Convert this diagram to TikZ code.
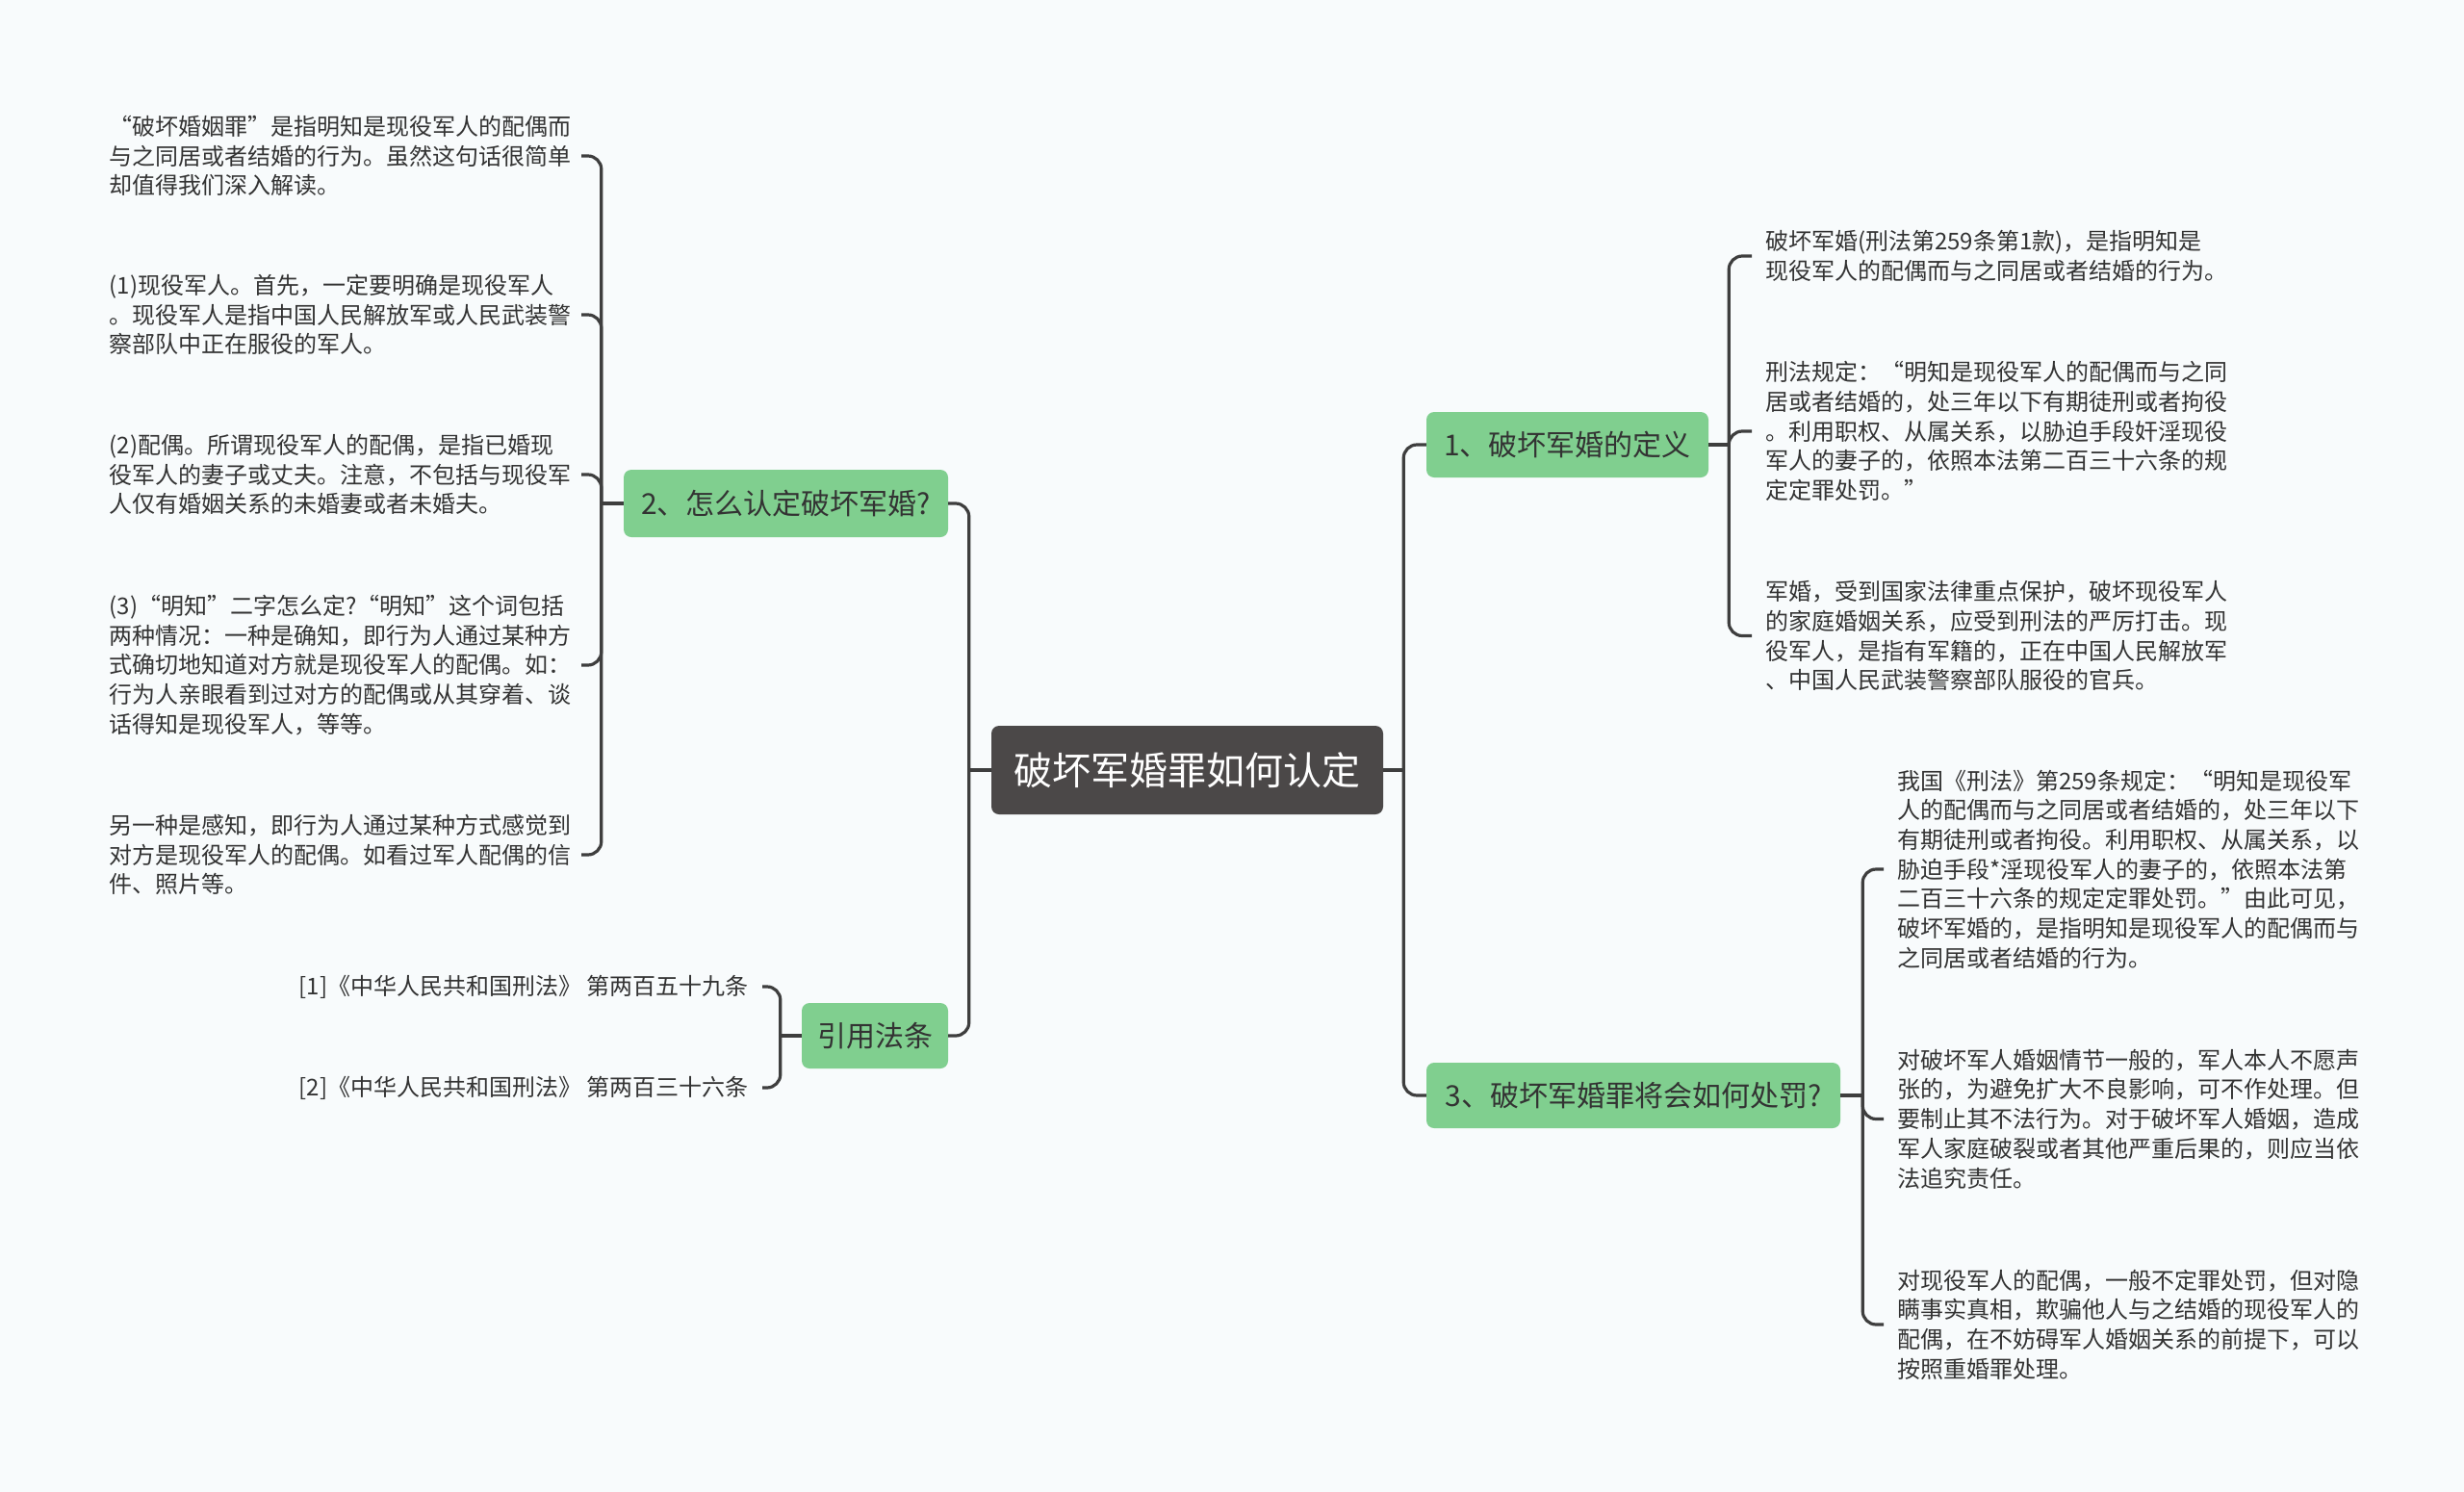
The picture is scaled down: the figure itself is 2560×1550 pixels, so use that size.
\documentclass[tikz,border=0pt]{standalone}
\usepackage{fontspec}
\setmainfont{Noto Sans CJK SC}
\definecolor{bgc}{HTML}{F8FBFC}
\definecolor{rootc}{HTML}{4B4848}
\definecolor{topicc}{HTML}{80CF8F}
\definecolor{textc}{HTML}{333333}
\definecolor{linec}{HTML}{3E3E3E}
\tikzset{
  rootnode/.style={fill=rootc, text=white, rounded corners=8pt, minimum height=92pt, inner xsep=18pt, font=\fontsize{40}{48}\selectfont},
  topic/.style={fill=topicc, text=textc, rounded corners=8pt, minimum height=68pt, inner xsep=15pt, font=\fontsize{30}{36}\selectfont},
  leaf/.style={text=textc, align=left, text width=482pt, inner xsep=14pt, inner ysep=2pt, font=\fontsize{24}{30.7}\selectfont},
  leftleaf/.style={leaf, text width=476pt},
  cite/.style={text=textc, align=right, inner xsep=14pt, inner ysep=2pt, font=\fontsize{24}{30.7}\selectfont},
  conn/.style={draw=linec, line width=3.2pt, rounded corners=14pt},
}
\begin{document}
\begin{tikzpicture}[x=1pt,y=-1pt]
\fill[bgc] (0,0) rectangle (2560,1550);
\useasboundingbox (0,0) rectangle (2560,1550);

% root and topics
\node[rootnode, minimum width=407pt] (root) at (1233.5,800) {破坏军婚罪如何认定};
\node[topic, minimum width=293pt] (t1) at (1628.5,462) {1、破坏军婚的定义};
\node[topic, minimum width=430pt] (t3) at (1697,1138) {3、破坏军婚罪将会如何处罚?};
\node[topic, minimum width=337pt, minimum height=70pt] (t2) at (816.5,523) {2、怎么认定破坏军婚?};
\node[topic, minimum width=152pt] (t4) at (909,1076) {引用法条};

% left leaves of t2
\node[leftleaf, anchor=east] (l1) at (604,162) {“破坏婚姻罪”是指明知是现役军人的配偶而\\与之同居或者结婚的行为。虽然这句话很简单\\却值得我们深入解读。};
\node[leftleaf, anchor=east] (l2) at (604,327) {(1)现役军人。首先，一定要明确是现役军人\\。现役军人是指中国人民解放军或人民武装警\\察部队中正在服役的军人。};
\node[leftleaf, anchor=east] (l3) at (604,493) {(2)配偶。所谓现役军人的配偶，是指已婚现\\役军人的妻子或丈夫。注意，不包括与现役军\\人仅有婚姻关系的未婚妻或者未婚夫。};
\node[leftleaf, anchor=east] (l4) at (604,691) {(3)“明知”二字怎么定?“明知”这个词包括\\两种情况：一种是确知，即行为人通过某种方\\式确切地知道对方就是现役军人的配偶。如：\\行为人亲眼看到过对方的配偶或从其穿着、谈\\话得知是现役军人，等等。};
\node[leftleaf, anchor=east] (l5) at (604,888) {另一种是感知，即行为人通过某种方式感觉到\\对方是现役军人的配偶。如看过军人配偶的信\\件、照片等。};

% citation leaves
\node[cite, anchor=east] (c1) at (792,1025) {[1]《中华人民共和国刑法》 第两百五十九条};
\node[cite, anchor=east] (c2) at (792,1130) {[2]《中华人民共和国刑法》 第两百三十六条};

% right leaves of t1
\node[leaf, anchor=west] (r1) at (1820,266) {破坏军婚(刑法第259条第1款)，是指明知是\\现役军人的配偶而与之同居或者结婚的行为。};
\node[leaf, anchor=west] (r2) at (1820,448) {刑法规定：“明知是现役军人的配偶而与之同\\居或者结婚的，处三年以下有期徒刑或者拘役\\。利用职权、从属关系，以胁迫手段奸淫现役\\军人的妻子的，依照本法第二百三十六条的规\\定定罪处罚。”};
\node[leaf, anchor=west] (r3) at (1820,660.5) {军婚，受到国家法律重点保护，破坏现役军人\\的家庭婚姻关系，应受到刑法的严厉打击。现\\役军人，是指有军籍的，正在中国人民解放军\\、中国人民武装警察部队服役的官兵。};

% right leaves of t3
\node[leaf, anchor=west] (r4) at (1957,903) {我国《刑法》第259条规定：“明知是现役军\\人的配偶而与之同居或者结婚的，处三年以下\\有期徒刑或者拘役。利用职权、从属关系，以\\胁迫手段*淫现役军人的妻子的，依照本法第\\二百三十六条的规定定罪处罚。”由此可见，\\破坏军婚的，是指明知是现役军人的配偶而与\\之同居或者结婚的行为。};
\node[leaf, anchor=west] (r5) at (1957,1162.5) {对破坏军人婚姻情节一般的，军人本人不愿声\\张的，为避免扩大不良影响，可不作处理。但\\要制止其不法行为。对于破坏军人婚姻，造成\\军人家庭破裂或者其他严重后果的，则应当依\\法追究责任。};
\node[leaf, anchor=west] (r6) at (1957,1376) {对现役军人的配偶，一般不定罪处罚，但对隐\\瞒事实真相，欺骗他人与之结婚的现役军人的\\配偶，在不妨碍军人婚姻关系的前提下，可以\\按照重婚罪处理。};

% connectors: root
\draw[conn] (root.west) -- ([xshift=-23pt]root.west);
\draw[conn] ([xshift=-23pt]root.west) |- (t2.east);
\draw[conn] ([xshift=-23pt]root.west) |- (t4.east);
\draw[conn] (root.east) -- ([xshift=21pt]root.east);
\draw[conn] ([xshift=21pt]root.east) |- (t1.west);
\draw[conn] ([xshift=21pt]root.east) |- (t3.west);

% connectors: t2
\draw[conn] (t2.west) -- ([xshift=-23pt]t2.west);
\foreach \c in {l1,l2,l3,l4,l5}
  \draw[conn] ([xshift=-23pt]t2.west) |- (\c.east);

% connectors: t4
\draw[conn] (t4.west) -- ([xshift=-22pt]t4.west);
\foreach \c in {c1,c2}
  \draw[conn] ([xshift=-22pt]t4.west) |- (\c.east);

% connectors: t1
\draw[conn] (t1.east) -- ([xshift=21pt]t1.east);
\foreach \c in {r1,r2,r3}
  \draw[conn] ([xshift=21pt]t1.east) |- (\c.west);

% connectors: t3
\draw[conn] (t3.east) -- ([xshift=23pt]t3.east);
\foreach \c in {r4,r5,r6}
  \draw[conn] ([xshift=23pt]t3.east) |- (\c.west);
\end{tikzpicture}
\end{document}
